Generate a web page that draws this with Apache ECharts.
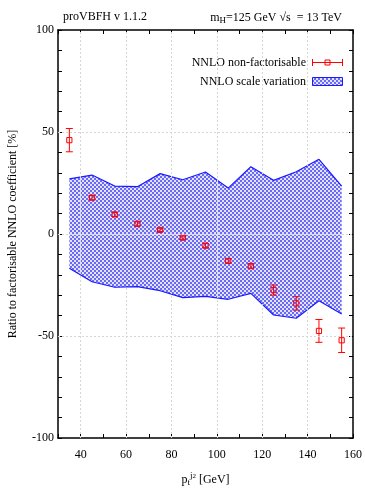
<!DOCTYPE html>
<html>
<head>
<meta charset="utf-8">
<script src="https://cdn.jsdelivr.net/npm/echarts@6/dist/echarts.min.js"></script>
<style>
  html, body { margin: 0; padding: 0; background: #fff; }
  #graph { width: 365px; height: 488px; }
</style>
</head>
<body>
<div id="graph"></div>
<script>
// pT bin centres (GeV)
var bins = [35, 45, 55, 65, 75, 85, 95, 105, 115, 125, 135, 145, 155];
// NNLO non-factorisable / factorisable [%]
var ratio = [46.0, 17.8, 9.6, 5.0, 2.0, -1.8, -5.7, -13.2, -15.7, -27.5, -34.0, -47.5, -52.1];
var ratioErr = [5.7, 1.0, 1.0, 1.0, 0.8, 0.8, 1.0, 1.0, 1.0, 2.5, 3.3, 5.6, 6.0];
// scale variation band
var scaleUp = [27.0, 28.9, 23.5, 23.2, 29.6, 26.6, 30.4, 22.5, 33.0, 26.3, 30.5, 36.6, 23.5];
var scaleDown = [-16.8, -23.4, -26.1, -25.8, -27.8, -31.2, -30.6, -32.0, -29.1, -39.7, -41.3, -32.7, -39.2];
// grid lines
var xGrid = [40, 60, 80, 100, 120, 140];
var yGrid = [50, 0, -50];

var FONT = 'Liberation Serif';
var FS = 12;

// checker pattern for the band
function makePattern() {
    var c = document.createElement('canvas');
    c.width = 4; c.height = 4;
    var ctx = c.getContext('2d');
    ctx.fillStyle = '#e2e2ff';
    ctx.fillRect(0, 0, 4, 4);
    ctx.fillStyle = '#6a6af6';
    ctx.fillRect(0, 0, 2, 2);
    ctx.fillRect(2, 2, 2, 2);
    return {image: c, repeat: 'repeat'};
}
var pattern = makePattern();

function renderBand(params, api) {
    var pts = [];
    for (var i = 0; i < bins.length; i++) pts.push(api.coord([bins[i], scaleUp[i]]));
    for (var j = bins.length - 1; j >= 0; j--) pts.push(api.coord([bins[j], scaleDown[j]]));
    return {
        type: 'polygon',
        shape: {points: pts},
        style: {fill: pattern, stroke: null}
    };
}

function renderErr(params, api) {
    var x = api.value(0), y = api.value(1), e = api.value(2);
    var c = api.coord([x, y]);
    var top = api.coord([x, y + e]);
    var bot = api.coord([x, y - e]);
    var cap = 3.5, sq = 2.6;
    var st = {stroke: '#ff0000', lineWidth: 1, fill: null};
    return {
        type: 'group',
        children: [
            {type: 'line', shape: {x1: c[0], y1: top[1], x2: c[0], y2: bot[1]}, style: st},
            {type: 'line', shape: {x1: c[0] - cap, y1: top[1], x2: c[0] + cap, y2: top[1]}, style: st},
            {type: 'line', shape: {x1: c[0] - cap, y1: bot[1], x2: c[0] + cap, y2: bot[1]}, style: st},
            {type: 'rect', shape: {x: c[0] - sq, y: c[1] - sq, width: sq * 2, height: sq * 2}, style: st}
        ]
    };
}

var tickStyle = {show: true, inside: true, length: 4, lineStyle: {color: '#000', width: 1}};
var lineStyleAxis = {show: true, onZero: false, lineStyle: {color: '#000', width: 1.5}};
var gridLine = {color: '#d6d6d6', width: 1, type: [2, 2]};

var markData = [];
xGrid.forEach(function (v) { markData.push({xAxis: v}); });
yGrid.forEach(function (v) { markData.push({yAxis: v}); });

var option = {
    animation: false,
    backgroundColor: '#fff',
    textStyle: {fontFamily: FONT},
    title: [{
        text: 'proVBFH v 1.1.2',
        left: 58, top: 6,
        textStyle: {fontFamily: FONT, fontSize: FS, fontWeight: 'normal', color: '#000'}
    }, {
        text: 'm{s|H}=125 GeV √s  = 13 TeV',
        right: 18, top: 6,
        textStyle: {
            fontFamily: FONT, fontSize: FS, fontWeight: 'normal', color: '#000',
            rich: {s: {fontFamily: FONT, fontSize: 9, verticalAlign: 'bottom', padding: [5, 0, 0, 0]}}
        }
    }],
    grid: {left: 58, right: 12, top: 30, bottom: 50, outerBoundsMode: 'none', containLabel: false},
    xAxis: [{
        type: 'value', min: 30, max: 160, interval: 10,
        axisLine: lineStyleAxis, axisTick: tickStyle, splitLine: {show: false},
        axisLabel: {
            color: '#000', fontFamily: FONT, fontSize: FS, margin: 11,
            formatter: function (v) { return (v % 20 === 0) ? String(v) : ''; }
        },
        name: 'p{t|t}{j|j}{k|2} [GeV]',
        nameLocation: 'middle', nameGap: 33,
        nameTextStyle: {
            color: '#000', fontFamily: FONT, fontSize: FS,
            rich: {
                t: {fontFamily: FONT, fontSize: 9, padding: [6, 0, 0, 0]},
                j: {fontFamily: FONT, fontSize: 9, padding: [0, 0, 8, 0]},
                k: {fontFamily: FONT, fontSize: 7, padding: [0, 0, 6, 0]}
            }
        }
    }, {
        type: 'value', position: 'top', min: 30, max: 160, interval: 10,
        axisLine: lineStyleAxis, axisTick: tickStyle, splitLine: {show: false},
        axisLabel: {show: false}
    }],
    yAxis: [{
        type: 'value', min: -100, max: 100, interval: 10,
        axisLine: lineStyleAxis, axisTick: tickStyle, splitLine: {show: false},
        axisLabel: {
            color: '#000', fontFamily: FONT, fontSize: FS, margin: 4,
            formatter: function (v) { return (v % 50 === 0) ? String(v) : ''; }
        },
        name: 'Ratio to factorisable NNLO coefficient [%]',
        nameLocation: 'middle', nameGap: 39,
        nameTextStyle: {color: '#000', fontFamily: FONT, fontSize: FS}
    }, {
        type: 'value', position: 'right', min: -100, max: 100, interval: 10,
        axisLine: lineStyleAxis, axisTick: tickStyle, splitLine: {show: false},
        axisLabel: {show: false}
    }],
    series: [{
        // grid lines
        type: 'line', data: [], z: 1, silent: true,
        markLine: {
            silent: true, symbol: 'none', animation: false,
            label: {show: false},
            lineStyle: gridLine,
            data: markData
        }
    }, {
        name: 'NNLO scale variation',
        type: 'custom', z: 2, clip: true,
        renderItem: renderBand,
        data: [[bins[0], 0]],
        encode: {x: 0, y: 1}
    }, {
        type: 'line', z: 3, symbol: 'none', silent: true,
        lineStyle: {color: '#1a1aff', width: 1.2},
        data: bins.map(function (x, i) { return [x, scaleUp[i]]; })
    }, {
        type: 'line', z: 3, symbol: 'none', silent: true,
        lineStyle: {color: '#1a1aff', width: 1.2},
        data: bins.map(function (x, i) { return [x, scaleDown[i]]; })
    }, {
        name: 'NNLO non-factorisable',
        type: 'custom', z: 4,
        renderItem: renderErr,
        encode: {x: 0, y: 1},
        data: bins.map(function (x, i) { return [x, ratio[i], ratioErr[i]]; })
    }],
    graphic: [
        {type: 'text', right: 59, top: 57, style: {text: 'NNLO non-factorisable', fontFamily: FONT, fontSize: FS, fill: '#000'}},
        {type: 'text', right: 59, top: 76, style: {text: 'NNLO scale variation', fontFamily: FONT, fontSize: FS, fill: '#000'}},
        {type: 'line', shape: {x1: 312, y1: 62.5, x2: 343, y2: 62.5}, style: {stroke: '#ff0000', lineWidth: 1}},
        {type: 'line', shape: {x1: 312.5, y1: 59, x2: 312.5, y2: 66}, style: {stroke: '#ff0000', lineWidth: 1}},
        {type: 'line', shape: {x1: 342.5, y1: 59, x2: 342.5, y2: 66}, style: {stroke: '#ff0000', lineWidth: 1}},
        {type: 'rect', shape: {x: 325, y: 60, width: 5, height: 5}, style: {stroke: '#ff0000', lineWidth: 1, fill: null}},
        {type: 'rect', shape: {x: 312.5, y: 77.5, width: 30, height: 8}, style: {fill: pattern, stroke: '#1a1aff', lineWidth: 1}}
    ]
};

var chart = echarts.init(document.getElementById('graph'));
chart.setOption(option);
</script>
</body>
</html>
